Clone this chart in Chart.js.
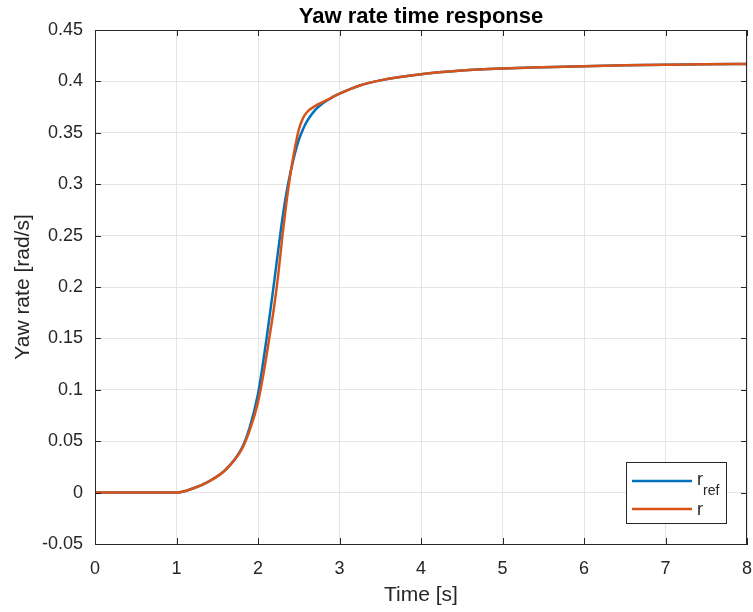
<!DOCTYPE html>
<html>
<head>
<meta charset="utf-8">
<script src="https://cdn.jsdelivr.net/npm/chart.js@4/dist/chart.umd.min.js"></script>
<style>
  html, body { margin: 0; padding: 0; background: #fff; }
  #wrap { width: 753px; height: 612px; }
</style>
</head>
<body>
<div id="wrap"><canvas id="myChart" width="753" height="612"></canvas></div>
<script>
// time samples [s]
const timeRef = [0, 0.5, 1, 1.2, 1.4, 1.6, 1.8, 1.9, 2.0, 2.05, 2.1, 2.15, 2.2, 2.25, 2.3, 2.35, 2.4, 2.45, 2.5, 2.55, 2.6, 2.7, 2.8, 2.9, 3.0, 3.25, 3.5, 4, 4.5, 5, 5.5, 6, 6.5, 7, 7.5, 8];
const rRef    = [0, 0, 0, 0.004, 0.011, 0.022, 0.043, 0.064, 0.096, 0.120, 0.147, 0.176, 0.206, 0.237, 0.267, 0.292, 0.312, 0.329, 0.343, 0.353, 0.361, 0.372, 0.379, 0.384, 0.388, 0.396, 0.401, 0.407, 0.4105, 0.4125, 0.4138, 0.4148, 0.4156, 0.4162, 0.4167, 0.417];
const timeR   = [0, 0.5, 1, 1.2, 1.4, 1.6, 1.8, 1.9, 2.0, 2.05, 2.1, 2.15, 2.2, 2.25, 2.3, 2.35, 2.4, 2.45, 2.5, 2.55, 2.6, 2.7, 2.8, 2.9, 3.0, 3.25, 3.5, 4, 4.5, 5, 5.5, 6, 6.5, 7, 7.5, 8];
const rAct    = [0, 0, 0, 0.004, 0.011, 0.022, 0.042, 0.061, 0.088, 0.108, 0.131, 0.156, 0.182, 0.213, 0.250, 0.283, 0.311, 0.334, 0.353, 0.364, 0.370, 0.376, 0.380, 0.384, 0.388, 0.396, 0.401, 0.407, 0.4105, 0.4125, 0.4138, 0.4148, 0.4156, 0.4162, 0.4167, 0.417];

const xTicks = [0, 1, 2, 3, 4, 5, 6, 7, 8];
const yTicks = [-0.05, 0, 0.05, 0.1, 0.15, 0.2, 0.25, 0.3, 0.35, 0.4, 0.45];
const yTickLabels = ['-0.05', '0', '0.05', '0.1', '0.15', '0.2', '0.25', '0.3', '0.35', '0.4', '0.45'];
const titleText = 'Yaw rate time response';

const BLUE = '#0072BD';
const ORANGE = '#D95319';
const AXIS = '#262626';
const FONT = "'Liberation Sans', Arial, sans-serif";

// box around the axes + small inward ticks, matlab style; title centred on the axes
const boxPlugin = {
    id: 'boxPlugin',
    afterDatasetsDraw(chart) {
        const { ctx, chartArea: a, scales } = chart;
        ctx.save();
        ctx.strokeStyle = AXIS;
        ctx.lineWidth = 1;
        ctx.strokeRect(Math.round(a.left) + 0.5, Math.round(a.top) + 0.5,
            Math.round(a.right - a.left) - 1, Math.round(a.bottom - a.top));
        ctx.beginPath();
        xTicks.forEach(v => {
            const px = Math.round(scales.x.getPixelForValue(v)) + 0.5;
            ctx.moveTo(px, a.top); ctx.lineTo(px, a.top + 6);
            ctx.moveTo(px, a.bottom); ctx.lineTo(px, a.bottom - 6);
        });
        yTicks.forEach(v => {
            const py = Math.round(scales.y.getPixelForValue(v)) + 0.5;
            ctx.moveTo(a.left, py); ctx.lineTo(a.left + 6, py);
            ctx.moveTo(a.right, py); ctx.lineTo(a.right - 6, py);
        });
        ctx.stroke();
        ctx.fillStyle = '#000';
        ctx.font = 'bold 22px ' + FONT;
        ctx.textAlign = 'center';
        ctx.textBaseline = 'alphabetic';
        ctx.fillText(titleText, (a.left + a.right) / 2, 22.5);
        ctx.restore();
    }
};

// legend box with subscript label
const legendPlugin = {
    id: 'legendPlugin',
    afterDraw(chart) {
        const ctx = chart.ctx;
        const x0 = 626.5, y0 = 462.5, w = 100, h = 61;
        ctx.save();
        ctx.fillStyle = '#fff';
        ctx.fillRect(x0, y0, w, h);
        ctx.strokeStyle = AXIS;
        ctx.lineWidth = 1;
        ctx.strokeRect(x0, y0, w, h);
        ctx.lineWidth = 2.5;
        ctx.strokeStyle = BLUE;
        ctx.beginPath(); ctx.moveTo(632, 481); ctx.lineTo(692, 481); ctx.stroke();
        ctx.strokeStyle = ORANGE;
        ctx.beginPath(); ctx.moveTo(632, 509); ctx.lineTo(692, 509); ctx.stroke();
        ctx.fillStyle = AXIS;
        ctx.textBaseline = 'alphabetic';
        ctx.textAlign = 'left';
        ctx.font = '18px ' + FONT;
        ctx.fillText('r', 697, 485);
        ctx.font = '14px ' + FONT;
        ctx.fillText('ref', 703, 495);
        ctx.font = '18px ' + FONT;
        ctx.fillText('r', 697, 515);
        ctx.restore();
    }
};

const data = {
    datasets: [{
        label: 'r_ref',
        data: timeRef.map((t, i) => ({ x: t, y: rRef[i] })),
        borderColor: BLUE,
        borderWidth: 2.5,
        pointRadius: 0,
        cubicInterpolationMode: 'monotone',
        order: 1
    }, {
        label: 'r',
        data: timeR.map((t, i) => ({ x: t, y: rAct[i] })),
        borderColor: ORANGE,
        borderWidth: 2.5,
        pointRadius: 0,
        cubicInterpolationMode: 'monotone',
        order: 0
    }]
};

const config = {
    type: 'line',
    data: data,
    options: {
        responsive: false,
        animation: false,
        layout: { padding: { left: 0, right: 6, top: 30, bottom: 0 } },
        plugins: {
            legend: { display: false },
            tooltip: { enabled: false },
            title: { display: false }
        },
        scales: {
            x: {
                type: 'linear',
                min: 0,
                max: 8,
                afterBuildTicks: (s) => { s.ticks = xTicks.map(v => ({ value: v })); },
                afterFit: (s) => { s.height = 68; s.paddingLeft = 0; s.paddingRight = 0; },
                ticks: {
                    color: AXIS,
                    font: { family: FONT, size: 18 },
                    padding: 14,
                    maxRotation: 0
                },
                grid: { color: '#e5e5e5', drawTicks: false },
                border: { color: AXIS },
                title: {
                    display: true,
                    text: 'Time [s]',
                    color: AXIS,
                    font: { family: FONT, size: 21 },
                    padding: { top: 4, bottom: 4 }
                }
            },
            y: {
                type: 'linear',
                min: -0.05,
                max: 0.45,
                afterBuildTicks: (s) => { s.ticks = yTicks.map(v => ({ value: v })); },
                afterFit: (s) => { s.width = 95; s.paddingTop = 0; s.paddingBottom = 0; },
                ticks: {
                    color: AXIS,
                    font: { family: FONT, size: 18 },
                    padding: 12,
                    callback: (v) => yTickLabels[yTicks.findIndex(t => Math.abs(t - v) < 1e-9)]
                },
                grid: { color: '#e5e5e5', drawTicks: false },
                border: { color: AXIS },
                title: {
                    display: true,
                    text: 'Yaw rate [rad/s]',
                    color: AXIS,
                    font: { family: FONT, size: 21 },
                    padding: { top: 10.5, bottom: 4 }
                }
            }
        }
    },
    plugins: [boxPlugin, legendPlugin]
};

const myChart = new Chart(
    document.getElementById('myChart'),
    config
);
</script>
</body>
</html>
